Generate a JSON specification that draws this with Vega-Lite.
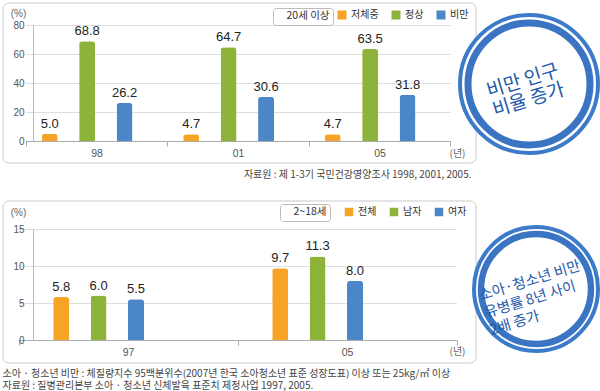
{
  "$schema": "https://vega.github.io/schema/vega-lite/v6.json",
  "padding": {"left": 2, "top": 2, "right": 0, "bottom": 0},
  "background": "white",
  "spacing": 20,
  "resolve": {"scale": {"color": "independent", "stroke": "independent"}, "legend": {"color": "independent", "stroke": "independent"}},
  "config": {
    "font": "Noto Sans CJK KR",
    "view": {"stroke": null},
    "axis": {"labelFont": "Liberation Sans", "titleFont": "Noto Sans CJK KR"}
  },
  "vconcat": [
    {
      "resolve": {"scale": {"color": "independent", "stroke": "independent"}, "legend": {"color": "independent", "stroke": "independent"}},
      "spacing": 0,
      "bounds": "flush",
      "hconcat": [
        {
          "width": 473,
          "height": 160,
          "title": {"text": "자료원 : 제 1-3기 국민건강영양조사 1998, 2001, 2005.", "orient": "bottom", "anchor": "end", "offset": 6, "dx": -5, "fontSize": 10, "font": "Noto Sans CJK KR", "fontWeight": "normal", "color": "#444"},
          "data": {"values": [
            {"year": "98", "group": "저체중", "value": 5.0},
            {"year": "98", "group": "정상", "value": 68.8},
            {"year": "98", "group": "비만", "value": 26.2},
            {"year": "01", "group": "저체중", "value": 4.7},
            {"year": "01", "group": "정상", "value": 64.7},
            {"year": "01", "group": "비만", "value": 30.6},
            {"year": "05", "group": "저체중", "value": 4.7},
            {"year": "05", "group": "정상", "value": 63.5},
            {"year": "05", "group": "비만", "value": 31.8}
          ]},
          "layer": [
            {
              "data": {"values": [{"age": "20세 이상"}]},
              "mark": {"type": "rect", "fill": "transparent", "strokeWidth": 1, "cornerRadius": 6},
              "encoding": {
                "stroke": {"field": "age", "type": "nominal", "scale": {"range": ["#c9c9c9"]},
                  "legend": {"orient": "none", "legendX": 270, "legendY": 5, "title": null, "symbolOpacity": 0, "symbolSize": 1, "symbolStrokeWidth": 0, "labelOffset": 0, "labelFont": "Noto Sans CJK KR", "labelFontSize": 10.5, "labelColor": "#333", "strokeColor": "#bbb", "cornerRadius": 3, "padding": 3}}
              }
            },
            {
              "encoding": {
                "x": {"field": "year", "type": "nominal", "sort": ["98", "01", "05"],
                  "scale": {"type": "band", "range": [22.75, 447.25], "paddingInner": 0, "paddingOuter": 0},
                  "axis": {"orient": "bottom", "offset": -22, "title": "(년)", "titleX": 454, "titleY": 12, "titleAlign": "center", "titleBaseline": "middle", "titleFontSize": 10, "titleFontWeight": "normal", "titleColor": "#666", "labelAngle": 0, "labelFontSize": 10.5, "labelColor": "#555", "labelPadding": 2, "domainColor": "#aaa", "tickColor": "#aaa", "tickSize": 5, "tickBand": "extent", "grid": false}},
                "xOffset": {"field": "group", "type": "nominal", "sort": ["저체중", "정상", "비만"], "scale": {"paddingInner": 0.145, "paddingOuter": 0.855}},
                "y": {"field": "value", "type": "quantitative",
                  "scale": {"domain": [0, 80], "range": [138, 22], "nice": false},
                  "axis": {"orient": "left", "offset": -30, "values": [0, 20, 40, 60, 80], "title": "(%)", "titleAngle": 0, "titleX": -15, "titleY": 10, "titleAlign": "center", "titleBaseline": "middle", "titleFont": "Liberation Sans", "titleFontSize": 10, "titleFontWeight": "normal", "titleColor": "#666", "labelFontSize": 10, "labelColor": "#555", "labelPadding": 9, "ticks": false, "domainColor": "#bbb", "gridColor": "#dedede"}}
              },
              "layer": [
                {
                  "mark": {"type": "bar", "cornerRadiusTopLeft": 3, "cornerRadiusTopRight": 3},
                  "encoding": {
                    "color": {"field": "group", "type": "nominal",
                      "scale": {"domain": ["저체중", "정상", "비만"], "range": ["#F7A325", "#8DB33A", "#4B86C9"]},
                      "legend": {"orient": "none", "legendX": 334, "legendY": 7, "direction": "horizontal", "title": null, "symbolType": "square", "symbolSize": 81, "symbolStrokeWidth": 0, "labelFont": "Noto Sans CJK KR", "labelFontSize": 10, "labelColor": "#333", "labelOffset": 4, "columnPadding": 12, "padding": 0}}
                  }
                },
                {
                  "mark": {"type": "text", "baseline": "bottom", "dy": -3, "fontSize": 13, "font": "Liberation Sans", "color": "#222"},
                  "encoding": {"text": {"field": "value", "type": "quantitative", "format": ".1f"}}
                }
              ]
            }
          ]
        },
        {
          "width": 106,
          "height": 162,
          "data": {"values": [{"label": "비만 인구\n비율 증가"}]},
          "layer": [
            {"mark": {"type": "point", "shape": "circle", "size": 19044, "filled": true, "fill": "white", "fillOpacity": 1, "stroke": "#3b7bc9", "strokeWidth": 4, "strokeOpacity": 1}, "encoding": {}},
            {"mark": {"type": "point", "shape": "circle", "size": 14884, "filled": true, "fill": "white", "fillOpacity": 1, "stroke": "#3a74c2", "strokeWidth": 7, "strokeOpacity": 1}, "encoding": {}},
            {"mark": {"type": "text", "angle": -17, "fontSize": 19, "font": "Noto Sans CJK KR", "color": "#1f5aa8", "lineBreak": "\n", "lineHeight": 20, "baseline": "middle", "align": "center", "dx": -5, "dy": -5}, "encoding": {"text": {"field": "label"}}}
          ]
        }
      ]
    },
    {
      "resolve": {"scale": {"color": "independent", "stroke": "independent"}, "legend": {"color": "independent", "stroke": "independent"}},
      "spacing": 0,
      "bounds": "flush",
      "hconcat": [
        {
          "width": 473,
          "height": 162,
          "title": {"text": ["소아 · 청소년 비만 : 체질량지수 95백분위수(2007년 한국 소아청소년 표준 성장도표) 이상 또는 25kg/㎡ 이상", "자료원 : 질병관리본부 소아 · 청소년 신체발육 표준치 제정사업 1997, 2005."], "orient": "bottom", "anchor": "start", "offset": 5, "lineHeight": 12, "fontSize": 10, "font": "Noto Sans CJK KR", "fontWeight": "normal", "color": "#444"},
          "data": {"values": [
            {"year": "97", "group": "전체", "value": 5.8},
            {"year": "97", "group": "남자", "value": 6.0},
            {"year": "97", "group": "여자", "value": 5.5},
            {"year": "05", "group": "전체", "value": 9.7},
            {"year": "05", "group": "남자", "value": 11.3},
            {"year": "05", "group": "여자", "value": 8.0}
          ]},
          "layer": [
            {
              "data": {"values": [{"age": "2~18세"}]},
              "mark": {"type": "rect", "fill": "transparent", "strokeWidth": 1, "cornerRadius": 6},
              "encoding": {
                "stroke": {"field": "age", "type": "nominal", "scale": {"range": ["#c9c9c9"]},
                  "legend": {"orient": "none", "legendX": 277, "legendY": 3, "title": null, "symbolOpacity": 0, "symbolSize": 1, "symbolStrokeWidth": 0, "labelOffset": 0, "labelFont": "Noto Sans CJK KR", "labelFontSize": 10.5, "labelColor": "#333", "strokeColor": "#bbb", "cornerRadius": 3, "padding": 3}}
              }
            },
            {
              "encoding": {
                "x": {"field": "year", "type": "nominal", "sort": ["97", "05"],
                  "scale": {"type": "band", "range": [15.5, 453.5], "paddingInner": 0, "paddingOuter": 0},
                  "axis": {"orient": "bottom", "offset": -23, "title": "(년)", "titleX": 454, "titleY": 11, "titleAlign": "center", "titleBaseline": "middle", "titleFontSize": 10, "titleFontWeight": "normal", "titleColor": "#666", "labelAngle": 0, "labelFontSize": 10.5, "labelColor": "#555", "labelPadding": 2, "domainColor": "#aaa", "tickColor": "#aaa", "tickSize": 5, "tickBand": "extent", "grid": false}},
                "xOffset": {"field": "group", "type": "nominal", "sort": ["전체", "남자", "여자"], "scale": {"paddingInner": 0.145, "paddingOuter": 2.1}},
                "y": {"field": "value", "type": "quantitative",
                  "scale": {"domain": [0, 15], "range": [139, 28], "nice": false},
                  "axis": {"orient": "left", "offset": -30, "values": [0, 5, 10, 15], "title": "(%)", "titleAngle": 0, "titleX": -15, "titleY": 11, "titleAlign": "center", "titleBaseline": "middle", "titleFont": "Liberation Sans", "titleFontSize": 10, "titleFontWeight": "normal", "titleColor": "#666", "labelFontSize": 10, "labelColor": "#555", "labelPadding": 9, "ticks": false, "domainColor": "#bbb", "gridColor": "#dedede"}}
              },
              "layer": [
                {
                  "mark": {"type": "bar", "cornerRadiusTopLeft": 3, "cornerRadiusTopRight": 3},
                  "encoding": {
                    "color": {"field": "group", "type": "nominal",
                      "scale": {"domain": ["전체", "남자", "여자"], "range": ["#F7A325", "#8DB33A", "#4B86C9"]},
                      "legend": {"orient": "none", "legendX": 341, "legendY": 6, "direction": "horizontal", "title": null, "symbolType": "square", "symbolSize": 72, "symbolStrokeWidth": 0, "labelFont": "Noto Sans CJK KR", "labelFontSize": 10, "labelColor": "#333", "labelOffset": 4, "columnPadding": 12, "padding": 0}}
                  }
                },
                {
                  "mark": {"type": "text", "baseline": "bottom", "dy": -3, "fontSize": 13, "font": "Liberation Sans", "color": "#222"},
                  "encoding": {"text": {"field": "value", "type": "quantitative", "format": ".1f"}}
                }
              ]
            }
          ]
        },
        {
          "width": 120,
          "height": 176,
          "data": {"values": [{"label": "소아·청소년 비만\n유병률 8년 사이\n2배 증가"}]},
          "layer": [
            {"mark": {"type": "point", "shape": "circle", "size": 15376, "filled": true, "fill": "white", "fillOpacity": 1, "stroke": "#3b7bc9", "strokeWidth": 4, "strokeOpacity": 1}, "encoding": {}},
            {"mark": {"type": "point", "shape": "circle", "size": 12100, "filled": true, "fill": "white", "fillOpacity": 1, "stroke": "#3a74c2", "strokeWidth": 6.5, "strokeOpacity": 1}, "encoding": {}},
            {"mark": {"type": "text", "angle": -17, "fontSize": 14.5, "font": "Noto Sans CJK KR", "color": "#1f5aa8", "lineBreak": "\n", "lineHeight": 18, "baseline": "middle", "align": "left", "dx": -56, "dy": -9}, "encoding": {"text": {"field": "label"}}}
          ]
        }
      ]
    }
  ]
}
